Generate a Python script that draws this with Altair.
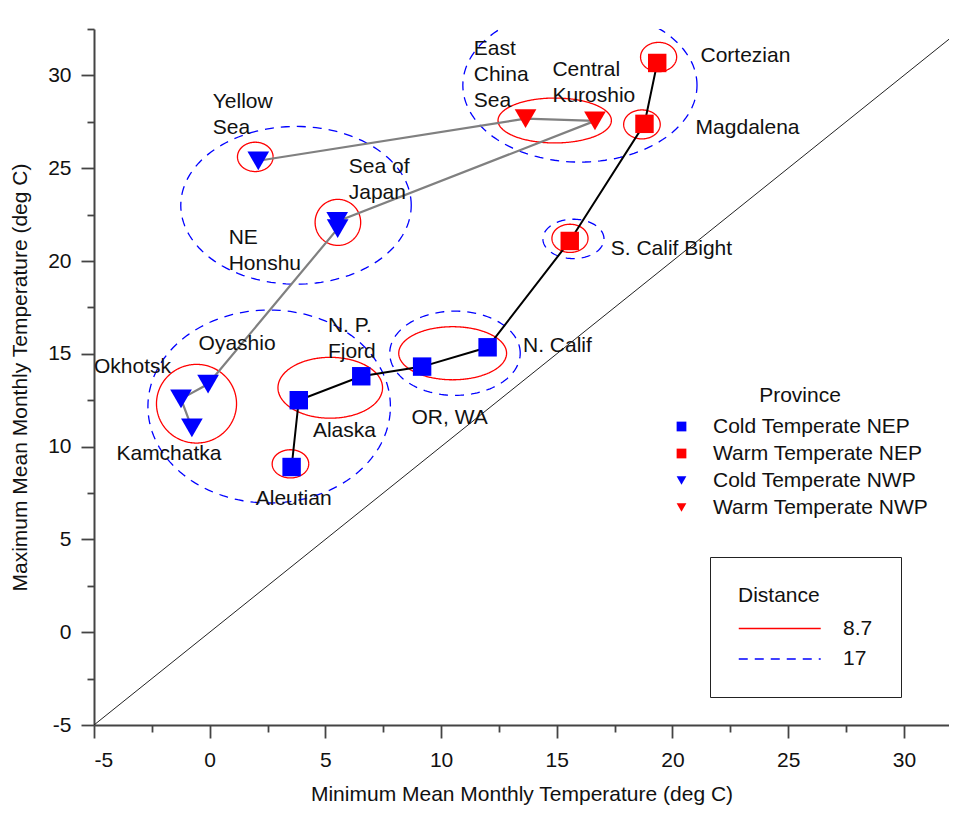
import altair as alt
import numpy as np
import pandas as pd

FONT = "Liberation Sans"
TXT = "#111111"

# ---------------- data ----------------
region = ["Aleutian", "Alaska", "N. P. Fjord", "OR, WA", "N. Calif",
          "S. Calif Bight", "Magdalena", "Cortezian",
          "Yellow Sea", "East China Sea", "Central Kuroshio", "Sea of Japan",
          "NE Honshu", "Oyashio", "Okhotsk", "Kamchatka"]
province = ["Cold Temperate NEP"] * 5 + ["Warm Temperate NEP"] * 3 + [
    "Cold Temperate NWP", "Warm Temperate NWP", "Warm Temperate NWP",
    "Cold Temperate NWP", "Cold Temperate NWP", "Cold Temperate NWP",
    "Cold Temperate NWP", "Cold Temperate NWP"]
coast = ["NEP"] * 8 + ["NWP"] * 8
path_seq = [0, 1, 2, 3, 4, 5, 6, 7, 0, 1, 2, 3, 4, 5, 6, 7]
min_temp = [3.54, 3.85, 6.55, 9.18, 12.01, 15.56, 18.79, 19.34,
            2.10, 13.65, 16.65, 5.51, 5.53, -0.07, -1.24, -0.77]
max_temp = [8.90, 12.50, 13.79, 14.31, 15.35, 21.08, 27.39, 30.67,
            25.40, 27.67, 27.55, 22.13, 21.74, 13.37, 12.57, 11.01]

label_lines = [["Aleutian"], ["Alaska"], ["N. P.", "Fjord"], ["OR, WA"], ["N. Calif"],
               ["S. Calif Bight"], ["Magdalena"], ["Cortezian"],
               ["Yellow", "Sea"], ["East", "China", "Sea"], ["Central", "Kuroshio"],
               ["Sea of", "Japan"], ["NE", "Honshu"], ["Oyashio"], ["Okhotsk"], ["Kamchatka"]]
label_x = [1.99, 4.46, 5.11, 8.72, 13.54, 17.33, 21.00, 21.21,
           0.13, 11.41, 14.81, 6.01, 0.82, -0.48, -5.0, -4.03]
label_y = [7.20, 10.82, 16.52, 11.53, 15.44, 20.63, 27.19, 31.04,
           28.57, 31.42, 30.30, 25.08, 21.26, 15.51, 14.27, 9.62]

# cluster ellipses: centre, half-widths, distance level
ell_cx = [1.97, 5.54, 14.91, 19.40, 18.68, 15.57, 10.50, 5.21, 3.49, -0.57,
          3.73, 16.00, 15.72, 10.60, 2.57]
ell_cy = [25.61, 22.08, 27.57, 30.99, 27.36, 21.22, 15.03, 13.17, 9.07, 12.31,
          23.00, 29.47, 21.19, 15.03, 12.16]
ell_rx = [0.77, 0.985, 2.45, 0.78, 0.79, 0.78, 2.33, 2.26, 0.79, 1.73,
          4.98, 5.06, 1.32, 2.82, 5.24]
ell_ry = [0.79, 1.24, 1.21, 0.79, 0.78, 0.76, 1.43, 1.64, 0.76, 2.12,
          4.25, 4.14, 1.06, 2.27, 5.20]
ell_dist = ["8.7"] * 10 + ["17"] * 5

diag_vals = [-5, 31.95]
x_ticks = [-5, -2.5, 0, 2.5, 5, 7.5, 10, 12.5, 15, 17.5, 20, 22.5, 25, 27.5, 30]
y_ticks = [-5, -2.5, 0, 2.5, 5, 7.5, 10, 12.5, 15, 17.5, 20, 22.5, 25, 27.5, 30, 32.5]
prov_order = ["Cold Temperate NEP", "Warm Temperate NEP", "Cold Temperate NWP", "Warm Temperate NWP"]

# ---------------- frames ----------------
pts = pd.DataFrame({"Region": region, "Province": province, "Coast": coast,
                    "seq": path_seq, "x": min_temp, "y": max_temp})
labs = pd.DataFrame({"text": label_lines, "x": label_x, "y": label_y})
theta = np.linspace(0, 2 * np.pi, 145)
rows = []
for i, (cx, cy, rx, ry, d) in enumerate(zip(ell_cx, ell_cy, ell_rx, ell_ry, ell_dist)):
    for k, t in enumerate(theta):
        rows.append({"eid": i, "k": k, "x": cx + rx * np.cos(t), "y": cy + ry * np.sin(t), "Distance": d})
ell_df = pd.DataFrame(rows)
diag_df = pd.DataFrame({"x": diag_vals, "y": diag_vals})

# ---------------- encodings ----------------
major = "datum.value % 5 === 0"
x_axis = alt.Axis(values=x_ticks, labelExpr=f"{major} ? '' + datum.value : ''",
                  tickSize={"condition": {"test": major, "value": 13}, "value": 7},
                  labelPadding=11, titlePadding=13)
y_axis = alt.Axis(values=y_ticks, labelExpr=f"{major} ? '' + datum.value : ''",
                  tickSize={"condition": {"test": major, "value": 13}, "value": 7},
                  labelPadding=10, titlePadding=17)
X = alt.X("x:Q", scale=alt.Scale(domain=[-5, 31.95], nice=False, zero=False),
          axis=x_axis, title="Minimum Mean Monthly Temperature (deg C)")
Y = alt.Y("y:Q", scale=alt.Scale(domain=[-5, 32.5], nice=False, zero=False),
          axis=y_axis, title="Maximum Mean Monthly Temperature (deg C)")

diag = alt.Chart(diag_df).mark_line(color="#222222", strokeWidth=1, clip=True).encode(x=X, y=Y)

dist_legend = alt.Legend(title="Distance", orient="none", legendX=616, legendY=528,
                         strokeColor="#222222", padding=28,
                         symbolType="M-1,0L7,0", symbolSize=420, symbolStrokeWidth=1.3,
                         labelOffset=83, rowPadding=9.5, titlePadding=11.5,
                         titleFont=FONT, titleFontSize=21, titleFontWeight="normal", titleColor=TXT,
                         labelFont=FONT, labelFontSize=21, labelColor=TXT)
ellipses = alt.Chart(ell_df).mark_line(strokeWidth=1.3, clip=True).encode(
    x=X, y=Y, detail="eid:N", order="k:Q",
    color=alt.Color("Distance:N", scale=alt.Scale(domain=["8.7", "17"], range=["#FF0000", "#0000FF"]),
                    legend=dist_legend),
    strokeDash=alt.StrokeDash("Distance:N", scale=alt.Scale(domain=["8.7", "17"], range=[[1, 0], [9, 7]]),
                              legend=dist_legend))

path_nwp = alt.Chart(pts).transform_filter("datum.Coast === 'NWP'").mark_line(
    color="#808080", strokeWidth=2.2).encode(x=X, y=Y, order="seq:Q")
path_nep = alt.Chart(pts).transform_filter("datum.Coast === 'NEP'").mark_line(
    color="#000000", strokeWidth=2).encode(x=X, y=Y, order="seq:Q")

prov_legend = alt.Legend(title="Province", orient="none", legendX=577, legendY=356, padding=0,
                         symbolSize=95, labelOffset=21, rowPadding=5, titlePadding=10,
                         titleAnchor="middle", labelLimit=400,
                         titleFont=FONT, titleFontSize=21, titleFontWeight="normal", titleColor=TXT,
                         labelFont=FONT, labelFontSize=21, labelColor=TXT)
points = alt.Chart(pts).transform_calculate(
    msize="indexof(datum.Province, 'NWP') >= 0 ? 470 : 340"
).mark_point(filled=True, opacity=1).encode(
    x=X, y=Y,
    color=alt.Color("Province:N", scale=alt.Scale(domain=prov_order,
                    range=["#0000FF", "#FF0000", "#0000FF", "#FF0000"]), legend=prov_legend),
    shape=alt.Shape("Province:N", scale=alt.Scale(domain=prov_order,
                    range=["square", "square", "triangle-down", "triangle-down"]), legend=prov_legend),
    size=alt.Size("msize:Q", scale=None))

labels = alt.Chart(labs).mark_text(align="left", baseline="middle", font=FONT, fontSize=21,
                                   lineHeight=26, color=TXT).encode(x=X, y=Y, text="text")

chart = alt.layer(diag, ellipses, path_nwp, path_nep, points, labels).resolve_scale(
    color="independent", shape="independent", strokeDash="independent"
).properties(
    width=855, height=696,
    autosize=alt.AutoSizeParams(type="none"),
    padding={"left": 86, "top": 21, "right": 0, "bottom": 80},
).configure_view(stroke=None).configure_axis(
    grid=False, labelFont=FONT, labelFontSize=21, labelColor=TXT,
    titleFont=FONT, titleFontSize=21, titleFontWeight="normal", titleColor=TXT,
    domainColor="#444444", domainWidth=2, tickColor="#444444", tickWidth=1.8)

chart.save("out.html", embed_options={"renderer": "svg", "actions": False})
